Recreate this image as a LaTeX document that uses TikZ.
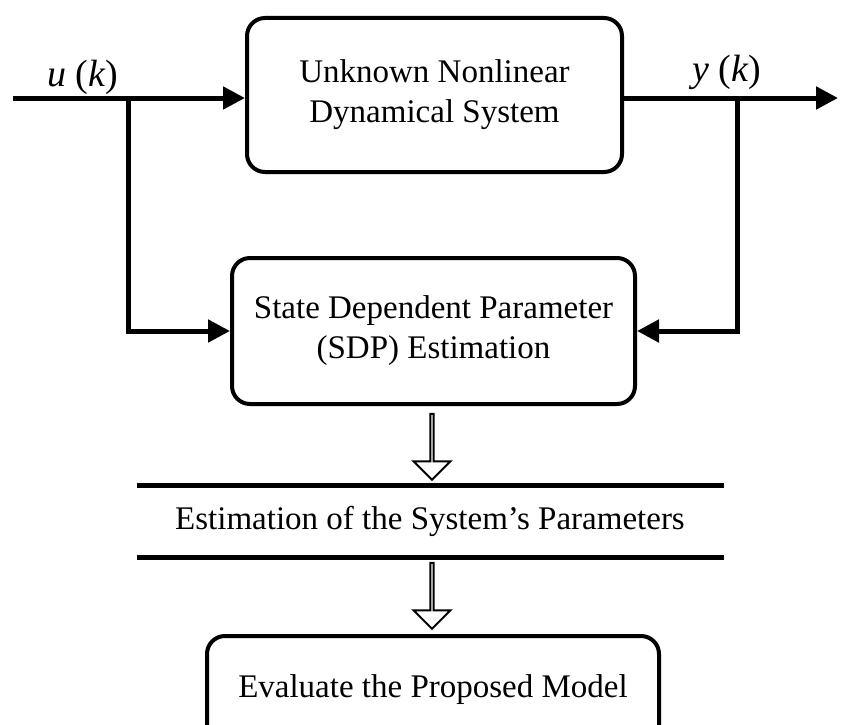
\documentclass[tikz,border=0pt]{standalone}
\usepackage{fontspec}
\setmainfont{Liberation Serif}
\usetikzlibrary{arrows.meta,shapes.arrows}
\tikzset{blk/.style={draw,line width=4pt,rounded corners=18pt,align=center,inner sep=0pt,font=\fontsize{33}{40}\selectfont},
	hollow/.style={draw,line width=2pt,shape=single arrow,inner sep=0pt,minimum height=66pt,minimum width=37pt,single arrow head extend=11pt,rotate=-90}}

\begin{document}
\begin{tikzpicture}[x=1pt,y=-1pt,>={Triangle[length=22pt,width=22pt]},line width=5pt]
\useasboundingbox (0,0) rectangle (841,725);
\clip (0,0) rectangle (841,725);

\node[blk,minimum width=375pt,minimum height=154pt] (sys) at (434.5,95) {Unknown Nonlinear\\Dynamical System};
\node[blk,minimum width=403pt,minimum height=146pt] (sdp) at (433.5,331) {State Dependent Parameter\\(SDP) Estimation};
\node[align=center,inner sep=0pt,minimum width=582pt,minimum height=67pt,font=\fontsize{33}{40}\selectfont] (est) at (430,521.5) {Estimation of the System's Parameters};
\node[blk,minimum width=452pt,minimum height=108pt] (eva) at (433,690) {\raisebox{3pt}{Evaluate the Proposed Model}};

\node[font=\fontsize{38}{44}\selectfont,inner sep=0pt] (ulab) at (83,77) {\textit{u} (\textit{k})};
\node[font=\fontsize{38}{44}\selectfont,inner sep=0pt] (ylab) at (727,72) {\textit{y} (\textit{k})};

\coordinate (in) at (13,98);
\coordinate (out) at (838,98);
\coordinate (ub) at (128,98);
\coordinate (yb) at (737,98);

\draw[->] (in) -- (in -| sys.west);
\draw[->] (in -| sys.east) -- (out);
\draw[->] (ub) |- (sdp.west);
\draw[->] (yb) |- (sdp.east);

\draw (est.north west) -- (est.north east);
\draw (est.south west) -- (est.south east);

\node[hollow] (a1) at (432,446) {};
\node[hollow] (a2) at (432,595) {};

\end{tikzpicture}
\end{document}
